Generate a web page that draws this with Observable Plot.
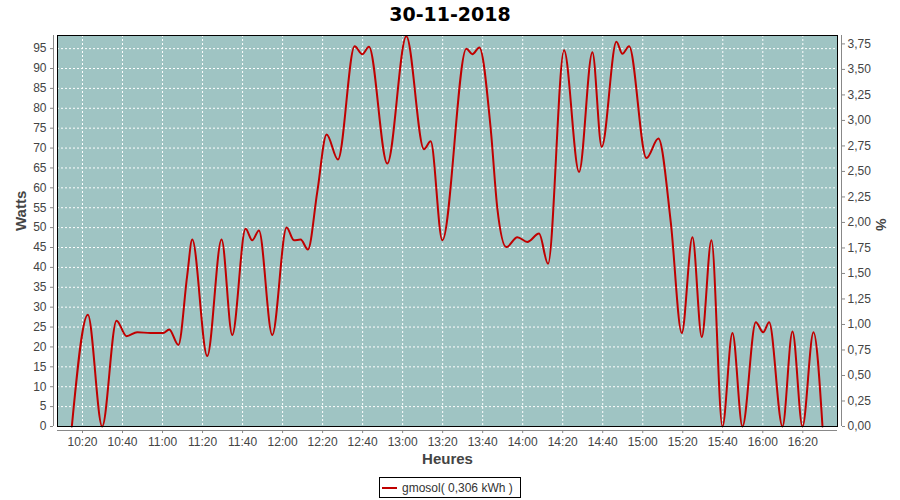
<!DOCTYPE html>
<html>
<head>
<meta charset="utf-8">
<script src="https://cdn.jsdelivr.net/npm/d3@7"></script>
<script src="https://cdn.jsdelivr.net/npm/@observablehq/plot@0.6"></script>
<style>
  body { margin: 0; background: white; width: 900px; height: 500px; overflow: hidden; }
  #title { height: 30px; position: relative; }
  #title div { position: absolute; top: 3px; left: 0; width: 900px; text-align: center;
    font: bold 19px "DejaVu Sans", sans-serif; line-height: 22px; color: #000; }
  #legend { margin: 7px auto 0 auto; width: 140px; height: 19px; border: 1px solid #000;
    display: flex; align-items: center; font: 12px "Liberation Sans", Arial, sans-serif; color: #333; }
  #legend .sw { width: 15px; height: 2px; background: #c00000; margin-left: 2px; margin-right: 5px; }
</style>
</head>
<body>
<div id="title"><div>30-11-2018</div></div>
<div id="chart"></div>
<div id="legend"><span class="sw"></span><span>gmosol( 0,306 kWh )</span></div>
<script>
const times = ["10:14:40","10:22:40","10:29:50","10:37:00","10:42:00","10:47:20","10:54:00","11:00:20","11:03:20","11:07:55",
  "11:12:20","11:14:50","11:22:20","11:29:30","11:34:50","11:41:30","11:44:50","11:48:10","11:54:50","12:02:00",
  "12:05:40","12:09:00","12:12:40","12:17:20","12:22:00","12:27:40","12:36:00","12:39:50","12:43:10","12:52:20",
  "13:01:50","13:10:40","13:14:00","13:19:50","13:31:50","13:34:50","13:38:20","13:44:00","13:47:20","13:51:50",
  "13:57:20","14:02:20","14:08:10","14:12:40","14:20:40","14:28:10","14:34:50","14:39:30","14:46:50","14:49:50",
  "14:53:10","15:01:50","15:07:50","15:14:00","15:19:30","15:24:50","15:29:30","15:34:20","15:39:50","15:44:50",
  "15:49:50","15:56:30","16:00:10","16:03:10","16:09:50","16:14:50","16:19:50","16:25:20","16:29:50"];
const watts = [0, 28.1, 0, 26.6, 22.7, 23.7, 23.5, 23.5, 24.4, 20.5,
  38, 47, 17.7, 47, 23, 49.7, 46.8, 49.3, 23, 50,
  46.8, 47, 44.5, 59, 73.4, 67.1, 95.6, 93.6, 95.5, 66.1,
  98.1, 69.7, 71.7, 46.8, 95, 93.6, 95.3, 74.9, 54.8, 45.1,
  47.6, 46.4, 48.5, 40.9, 94.6, 64, 94.1, 70.3, 96.7, 93.7,
  95.6, 67.5, 72.4, 51.4, 23.5, 47.6, 22.5, 46.8, 0, 23.5,
  0, 26.2, 23.7, 26.2, 0, 23.9, 0, 23.7, 0];
const xTickLabels = ["10:20","10:40","11:00","11:20","11:40","12:00","12:20","12:40","13:00","13:20",
  "13:40","14:00","14:20","14:40","15:00","15:20","15:40","16:00","16:20"];
const wattTicks = [0,5,10,15,20,25,30,35,40,45,50,55,60,65,70,75,80,85,90,95];
const pctTicks = [0,0.25,0.5,0.75,1,1.25,1.5,1.75,2,2.25,2.5,2.75,3,3.25,3.5,3.75];
const wattsPerPct = 25.65;

const parseT = d3.utcParse("%H:%M:%S");
const parseHM = d3.utcParse("%H:%M");
const data = times.map((t, i) => ({t: parseT(t), w: watts[i]}));
const xTicks = xTickLabels.map(parseHM);
const xDomain = [parseT("10:07:30"), parseT("16:37:20")];
const pctPos = pctTicks.map(p => p * wattsPerPct);

const chart = Plot.plot({
  width: 900, height: 440,
  marginTop: 5, marginLeft: 57, marginRight: 63, marginBottom: 44,
  x: {type: "utc", domain: xDomain},
  y: {domain: [0, 98.3]},
  style: {fontFamily: '"Liberation Sans", Arial, sans-serif', fontSize: "12px", background: "white", overflow: "visible"},
  marks: [
    Plot.frame({fill: "#9fc4c3", stroke: null}),
    Plot.gridX(xTicks, {stroke: "white", strokeOpacity: 1, strokeDasharray: "2,2"}),
    Plot.gridY(wattTicks, {stroke: "white", strokeOpacity: 1, strokeDasharray: "2,2"}),
    Plot.line(data, {x: "t", y: "w", stroke: "#c00000", strokeWidth: 2, curve: "monotone-x"}),
    Plot.frame({stroke: "#000", fill: null}),
    Plot.ruleX([xDomain[0]], {dx: -4, stroke: "#888"}),
    Plot.ruleX([xDomain[1]], {dx: 4, stroke: "#888"}),
    Plot.ruleY([0], {dy: 4, stroke: "#888"}),
    Plot.axisY(wattTicks, {anchor: "left", dx: -4, tickSize: 3, tickPadding: 4, stroke: "#888", fill: "#444", label: null}),
    Plot.axisY(pctPos, {anchor: "right", dx: 4, tickSize: 3, tickPadding: 3, stroke: "#888", fill: "#444", label: null,
      tickFormat: v => d3.format(".2f")(v / wattsPerPct).replace(".", ",")}),
    Plot.axisX(xTicks, {anchor: "bottom", dy: 4, tickSize: 3, tickPadding: 4, stroke: "#888", fill: "#444", label: null,
      tickFormat: d3.utcFormat("%H:%M")}),
    Plot.text(["Watts"], {frameAnchor: "left", dx: -36, rotate: -90, fontSize: 15, fontWeight: "bold", fill: "#444"}),
    Plot.text(["%"], {frameAnchor: "right", dx: 43, rotate: 90, fontSize: 14, fontWeight: "bold", fill: "#444"}),
    Plot.text(["Heures"], {frameAnchor: "bottom", dy: 37, fontSize: 15, fontWeight: "bold", fill: "#444"})
  ]
});
document.getElementById("chart").appendChild(chart);
</script>
</body>
</html>
